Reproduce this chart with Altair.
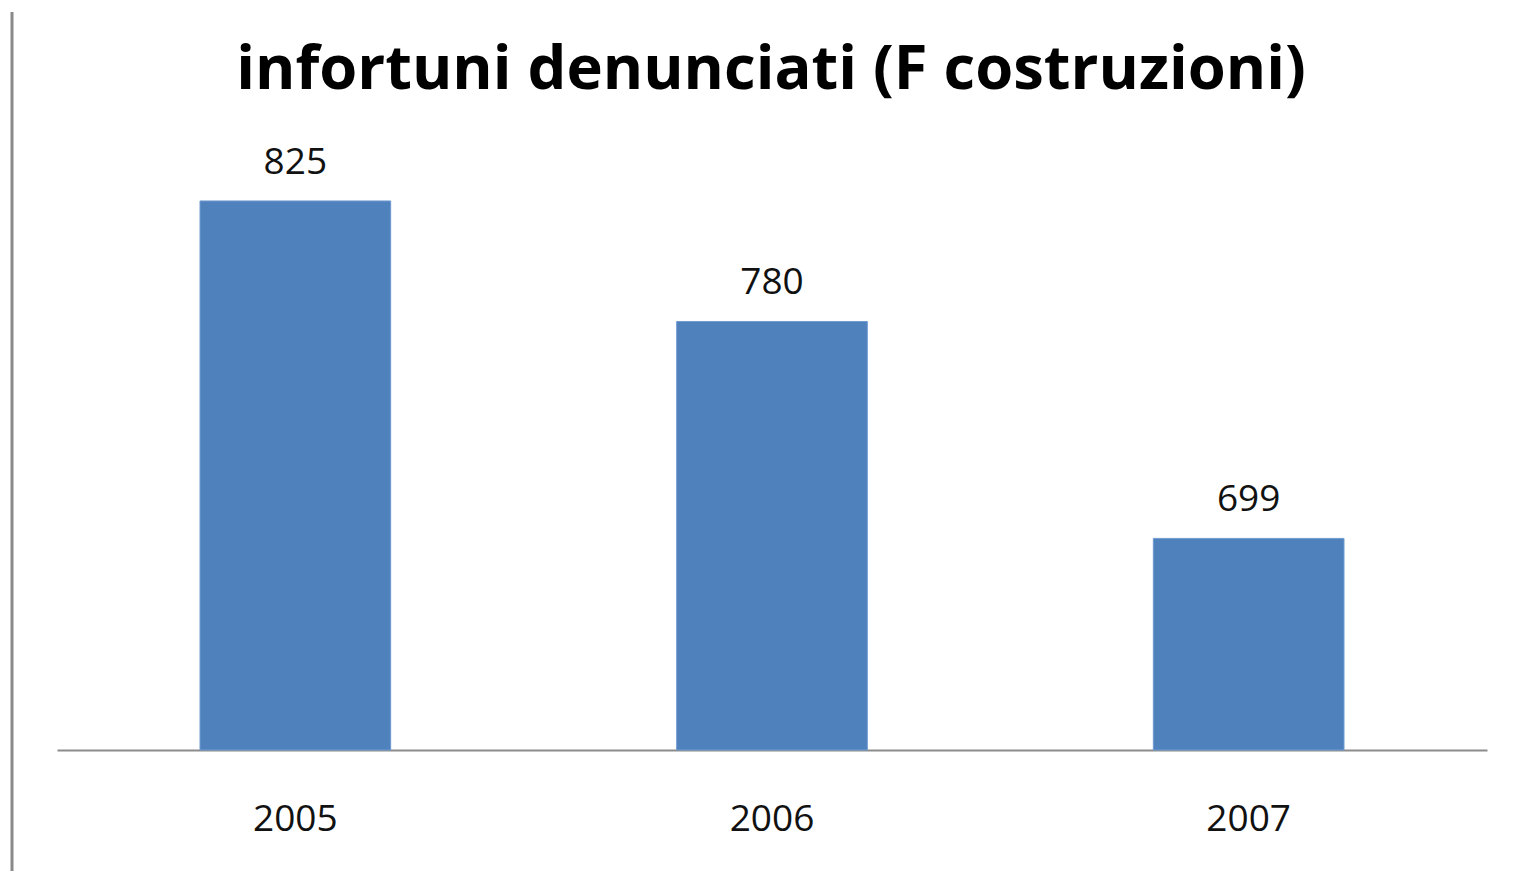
import altair as alt
import pandas as pd

years = ["2005", "2006", "2007"]
values = [825, 780, 699]
title_text = "infortuni denunciati (F costruzioni)"
axis_min = 620
axis_max = 850

df = pd.DataFrame({"anno": years, "infortuni": values})

FONT = "Open Sans"

x_enc = alt.X("anno:N", sort=years,
              scale=alt.Scale(paddingInner=0.6, paddingOuter=0.3),
              axis=alt.Axis(title=None, ticks=False, tickSize=0, grid=False,
                            domainColor="#8c8c8c", domainWidth=2,
                            labelFont=FONT, labelFontSize=37, labelColor="#111111",
                            labelAngle=0, labelBaseline="alphabetic", labelPadding=80))
y_enc = alt.Y("infortuni:Q", scale=alt.Scale(domain=[axis_min, axis_max], nice=False, zero=False),
              axis=None)

base = alt.Chart(df)

bars = base.mark_bar(color="#4f81bd", stroke="#6f9bd0", strokeWidth=1).encode(
    x=x_enc, y=y_enc, y2=alt.datum(axis_min))

labels = base.mark_text(font=FONT, fontSize=37, color="#111111", baseline="alphabetic",
                        dy=-27).encode(x=alt.X("anno:N", sort=years), y=y_enc,
                                       text=alt.Text("infortuni:Q"))

title = alt.Chart(pd.DataFrame({"t": [title_text]})).mark_text(
    font=FONT, fontSize=61.5, fontWeight="bold", color="#000000",
    baseline="alphabetic", align="center").encode(
    x=alt.value(714), y=alt.value(-45), text="t:N")

border = alt.Chart(pd.DataFrame({"a": [0]})).mark_rule(color="#8a8a8a", strokeWidth=3).encode(
    x=alt.value(-45), y=alt.value(-122), y2=alt.value(745))

chart = alt.layer(bars, labels, title, border).properties(
    width=1430, height=616,
    view=alt.ViewBackground(strokeWidth=0, strokeOpacity=0),
    autosize=alt.AutoSizeParams(type="none"),
    padding={"left": 49, "top": 126, "right": 19, "bottom": 121},
).configure_view(strokeWidth=0, strokeOpacity=0).configure(background="white")

chart.save("out.html", embed_options={"renderer": "svg", "actions": False})
